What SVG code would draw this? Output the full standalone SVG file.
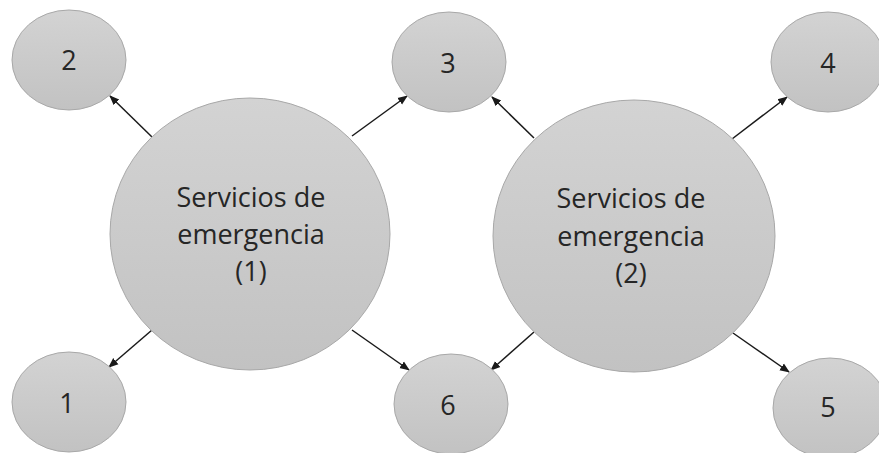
<svg xmlns="http://www.w3.org/2000/svg" width="879" height="453" viewBox="0 0 879 453">
<style>
.n{stroke:#a8a8a8;stroke-width:1;fill:url(#g)}
.t{font-family:"Open Sans","Liberation Sans",sans-serif;font-size:27px;fill:#262626;text-anchor:middle}
.c{stroke:#1a1a1a;stroke-width:1.5;fill:none;marker-end:url(#a)}
</style>
<defs>
<linearGradient id="g" x1="0" y1="0" x2="0" y2="1">
<stop offset="0" stop-color="#d3d3d3"/>
<stop offset="1" stop-color="#c2c2c2"/>
</linearGradient>
<marker id="a" markerUnits="userSpaceOnUse" markerWidth="10" markerHeight="10" viewBox="0 0 10 10" refX="9" refY="5" orient="auto">
<path d="M0,1 L10,5 L0,9 z" fill="#1a1a1a"/>
</marker>
</defs>
<g id="connectors">
<line class="c" x1="152" y1="137" x2="110" y2="96"/>
<line class="c" x1="352" y1="136" x2="407" y2="96"/>
<line class="c" x1="534" y1="138" x2="492" y2="97"/>
<line class="c" x1="732" y1="139" x2="787" y2="97"/>
<line class="c" x1="152" y1="330" x2="109" y2="367"/>
<line class="c" x1="352" y1="330" x2="409" y2="370"/>
<line class="c" x1="534" y1="332" x2="491" y2="370"/>
<line class="c" x1="733" y1="333" x2="789" y2="372"/>
</g>
<g id="hub1">
<ellipse class="n" cx="250" cy="234" rx="140" ry="136"/>
<text class="t" x="251" y="207">Servicios de</text>
<text class="t" x="251" y="244">emergencia</text>
<text class="t" x="251" y="281">(1)</text>
</g>
<g id="hub2">
<ellipse class="n" cx="634" cy="236" rx="141" ry="136"/>
<text class="t" x="631" y="208">Servicios de</text>
<text class="t" x="631" y="246">emergencia</text>
<text class="t" x="631" y="283">(2)</text>
</g>
<g id="n2"><ellipse class="n" cx="69" cy="60" rx="57" ry="50"/><text class="t" x="69" y="70">2</text></g>
<g id="n3"><ellipse class="n" cx="449" cy="62" rx="57" ry="50"/><text class="t" x="448" y="73">3</text></g>
<g id="n4"><ellipse class="n" cx="828" cy="62" rx="57" ry="50"/><text class="t" x="828" y="73">4</text></g>
<g id="n1"><ellipse class="n" cx="69" cy="402" rx="57" ry="50"/><text class="t" x="67" y="413">1</text></g>
<g id="n6"><ellipse class="n" cx="451" cy="404" rx="57" ry="50"/><text class="t" x="448" y="415">6</text></g>
<g id="n5"><ellipse class="n" cx="830" cy="408" rx="57" ry="50"/><text class="t" x="828" y="417">5</text></g>
</svg>
